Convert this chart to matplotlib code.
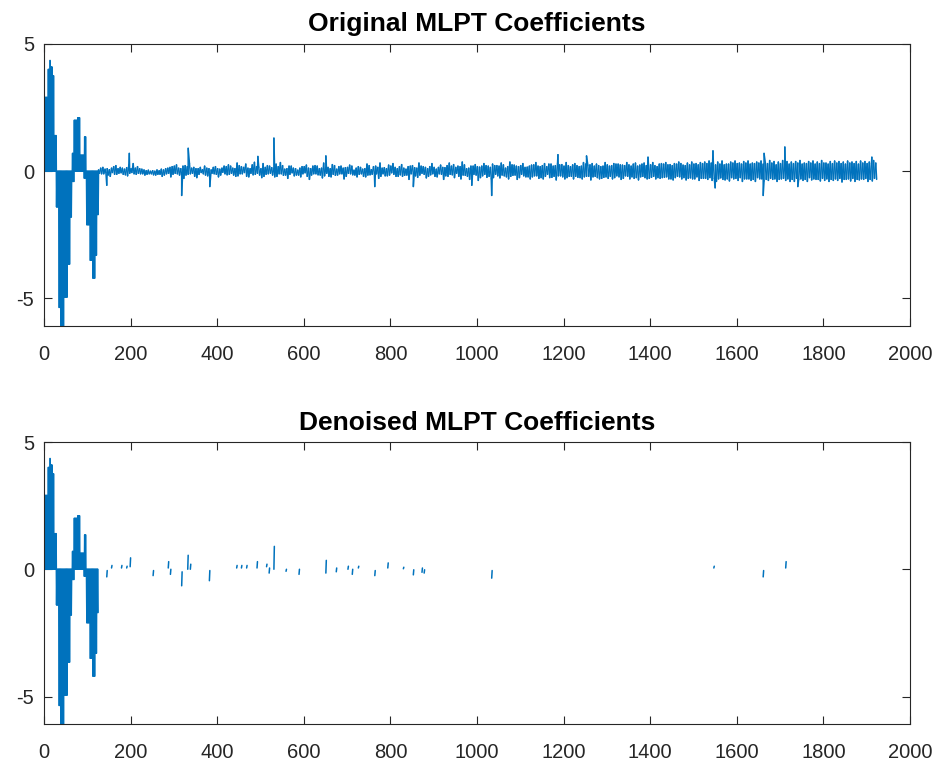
"""Original vs denoised MLPT coefficients (MATLAB-style stacked line plots)."""

import matplotlib

matplotlib.use("Agg")
import matplotlib.pyplot as plt
import numpy as np
from matplotlib.collections import LineCollection

# leading block of coarse coefficients: even indices (upper) and odd indices (lower)
UPPER_START = [0, 2, 10, 13, 16, 20, 24, 65, 70, 78, 83, 93]
UPPER_STOP = [2, 10, 13, 16, 20, 24, 29, 70, 78, 83, 93, 97]
UPPER_VALUE = [1.35, 2.9, 4.0, 4.35, 4.1, 3.75, 1.4, 0.7, 2.0, 2.1, 0.63, 1.35]

LOWER_START = [29, 35, 39, 47, 55, 60, 65, 93, 98, 106, 112, 118, 122]
LOWER_STOP = [35, 39, 47, 55, 60, 65, 70, 98, 106, 112, 118, 122, 126]
LOWER_VALUE = [-1.4, -5.35, -6.08, -4.95, -3.65, -1.8, -0.4, -0.27, -2.1, -3.5, -4.2, -3.3, -1.7]
BLOCK_LEN = 126

# fine-scale coefficients: upper excursions, read every 5 samples from index 126
NOISE_TOP = [
    0.05, 0.12, 0.15, 0.08, 0.1, 0.06, 0.12, 0.18, 0.22, 0.1, 0.15, 0.12, 0.08, 0.14, 0.25, 0.1, 0.3, 0.12, 0.18, 0.1,
    0.08, 0.05, 0.02, 0.04, 0.0, 0.02, 0.0, 0.05, 0.02, 0.08, 0.05, 0.1, 0.12, 0.15, 0.18, 0.2, 0.25, 0.12, 0.1, 0.2,
    0.22, 0.18, 0.3, 0.12, 0.15, 0.1, 0.1, 0.15, 0.06, 0.2, 0.12, 0.1, 0.05, 0.15, 0.18, 0.1, 0.08, 0.12, 0.2, 0.18,
    0.25, 0.2, 0.12, 0.1, 0.32, 0.22, 0.18, 0.15, 0.28, 0.12, 0.1, 0.25, 0.35, 0.18, 0.16, 0.1, 0.3, 0.15, 0.22, 0.2,
    0.14, 0.12, 0.28, 0.18, 0.34, 0.22, 0.08, 0.1, 0.2, 0.2, 0.12, 0.1, 0.04, 0.12, 0.18, 0.18, 0.24, 0.12, 0.1, 0.2,
    0.22, 0.2, 0.1, 0.12, 0.32, 0.15, 0.15, 0.1, 0.26, 0.22, 0.08, 0.18, 0.2, 0.12, 0.14, 0.15, 0.24, 0.2, 0.04, 0.12,
    0.18, 0.15, 0.08, 0.1, 0.28, 0.22, 0.06, 0.18, 0.2, 0.15, 0.32, 0.12, 0.14, 0.1, 0.24, 0.2, 0.3, 0.15, 0.1, 0.18,
    0.26, 0.12, 0.08, 0.18, 0.2, 0.22, 0.14, 0.12, 0.32, 0.2, 0.18, 0.15, 0.1, 0.18, 0.3, 0.15, 0.08, 0.15, 0.24, 0.15,
    0.14, 0.22, 0.32, 0.2, 0.26, 0.15, 0.2, 0.18, 0.36, 0.25, 0.1, 0.12, 0.2, 0.2, 0.26, 0.18, 0.16, 0.2, 0.3, 0.22,
    0.2, 0.15, 0.28, 0.22, 0.22, 0.2, 0.32, 0.25, 0.12, 0.18, 0.36, 0.25, 0.24, 0.2, 0.18, 0.22, 0.3, 0.15, 0.16, 0.2,
    0.24, 0.25, 0.34, 0.2, 0.18, 0.22, 0.3, 0.18, 0.28, 0.28, 0.2, 0.22, 0.3, 0.25, 0.26, 0.2, 0.34, 0.22, 0.18, 0.25,
    0.3, 0.22, 0.18, 0.2, 0.34, 0.28, 0.24, 0.25, 0.3, 0.2, 0.28, 0.22, 0.18, 0.2, 0.34, 0.25, 0.2, 0.22, 0.3, 0.28,
    0.28, 0.25, 0.24, 0.22, 0.34, 0.25, 0.2, 0.28, 0.32, 0.2, 0.24, 0.28, 0.32, 0.22, 0.28, 0.25, 0.34, 0.22, 0.18, 0.28,
    0.3, 0.28, 0.34, 0.25, 0.26, 0.22, 0.3, 0.28, 0.36, 0.3, 0.24, 0.22, 0.32, 0.25, 0.36, 0.28, 0.3, 0.25, 0.34, 0.3,
    0.36, 0.3, 0.4, 0.32, 0.3, 0.25, 0.36, 0.28, 0.4, 0.25, 0.28, 0.28, 0.36, 0.32, 0.4, 0.3, 0.32, 0.28, 0.38, 0.32,
    0.4, 0.28, 0.32, 0.3, 0.36, 0.32, 0.4, 0.28, 0.32, 0.3, 0.42, 0.32, 0.38, 0.25, 0.36, 0.3, 0.42, 0.32, 0.38, 0.28,
    0.36, 0.3, 0.38, 0.32, 0.42, 0.28, 0.32, 0.3, 0.38, 0.32, 0.4, 0.28, 0.36, 0.3, 0.42, 0.32, 0.32, 0.28, 0.38, 0.3,
    0.4, 0.32, 0.38, 0.3, 0.36, 0.28, 0.4, 0.32, 0.36, 0.3, 0.38, 0.28, 0.4, 0.32, 0.38, 0.3, 0.36, 0.3, 0.42, 0.32,
]
# lower excursions, read every 5 samples from index 128
NOISE_BOTTOM = [
    -0.08, -0.1, -0.1, -0.05, -0.15, -0.2, -0.05, -0.12, -0.12, -0.08, -0.06, -0.12, -0.14, -0.18, -0.08, -0.05, -0.1, -0.12, -0.08, -0.1,
    -0.1, -0.15, -0.12, -0.1, -0.1, -0.14, -0.15, -0.12, -0.12, -0.2, -0.15, -0.1, -0.08, -0.22, -0.12, -0.08, -0.1, -0.15, -0.2, -0.28,
    -0.15, -0.12, -0.1, -0.08, -0.2, -0.25, -0.12, -0.05, -0.1, -0.15, -0.18, -0.32, -0.08, -0.1, -0.12, -0.22, -0.15, -0.04, -0.1, -0.14,
    -0.12, -0.08, -0.15, -0.2, -0.18, -0.1, -0.1, -0.05, -0.2, -0.22, -0.08, -0.14, -0.12, -0.08, -0.15, -0.25, -0.2, -0.12, -0.1, -0.08,
    -0.15, -0.22, -0.2, -0.1, -0.1, -0.16, -0.15, -0.28, -0.12, -0.06, -0.18, -0.15, -0.15, -0.22, -0.1, -0.06, -0.2, -0.32, -0.15, -0.1,
    -0.1, -0.14, -0.15, -0.26, -0.18, -0.08, -0.2, -0.22, -0.12, -0.16, -0.15, -0.1, -0.1, -0.3, -0.2, -0.08, -0.1, -0.14, -0.15, -0.22,
    -0.12, -0.1, -0.2, -0.22, -0.15, -0.14, -0.12, -0.08, -0.1, -0.28, -0.2, -0.1, -0.18, -0.18, -0.15, -0.06, -0.12, -0.2, -0.2, -0.14,
    -0.2, -0.16, -0.15, -0.32, -0.1, -0.1, -0.18, -0.24, -0.15, -0.08, -0.12, -0.26, -0.2, -0.14, -0.1, -0.2, -0.22, -0.1, -0.12, -0.32,
    -0.18, -0.2, -0.12, -0.14, -0.25, -0.08, -0.2, -0.3, -0.15, -0.16, -0.2, -0.32, -0.22, -0.12, -0.15, -0.36, -0.25, -0.18, -0.12, -0.24,
    -0.2, -0.3, -0.25, -0.12, -0.18, -0.26, -0.15, -0.18, -0.22, -0.3, -0.2, -0.16, -0.15, -0.32, -0.25, -0.12, -0.18, -0.22, -0.22, -0.3,
    -0.22, -0.18, -0.18, -0.28, -0.25, -0.3, -0.2, -0.12, -0.25, -0.24, -0.2, -0.34, -0.18, -0.18, -0.22, -0.3, -0.25, -0.2, -0.2, -0.3,
    -0.2, -0.24, -0.25, -0.3, -0.22, -0.2, -0.2, -0.34, -0.22, -0.2, -0.25, -0.3, -0.28, -0.24, -0.22, -0.28, -0.2, -0.3, -0.25, -0.18,
    -0.22, -0.32, -0.28, -0.18, -0.2, -0.3, -0.22, -0.28, -0.25, -0.34, -0.22, -0.2, -0.25, -0.3, -0.28, -0.24, -0.2, -0.3, -0.25, -0.28,
    -0.25, -0.24, -0.22, -0.3, -0.3, -0.34, -0.25, -0.2, -0.22, -0.3, -0.25, -0.34, -0.28, -0.26, -0.3, -0.3, -0.22, -0.36, -0.28, -0.28,
    -0.28, -0.32, -0.25, -0.36, -0.28, -0.4, -0.3, -0.26, -0.32, -0.34, -0.3, -0.38, -0.25, -0.3, -0.28, -0.36, -0.25, -0.4, -0.3, -0.3,
    -0.3, -0.36, -0.32, -0.4, -0.25, -0.3, -0.3, -0.38, -0.32, -0.36, -0.28, -0.32, -0.3, -0.4, -0.32, -0.3, -0.28, -0.36, -0.3, -0.4,
    -0.32, -0.4, -0.28, -0.32, -0.3, -0.36, -0.32, -0.4, -0.25, -0.34, -0.3, -0.32, -0.32, -0.38, -0.28, -0.36, -0.3, -0.4, -0.32, -0.36,
    -0.3, -0.36, -0.28, -0.42, -0.32, -0.32, -0.3, -0.38, -0.28, -0.4, -0.32, -0.34, -0.3, -0.32, -0.28, -0.4, -0.32, -0.38, -0.28, -0.32,
]
NOISE_TOP_START = 126
NOISE_BOTTOM_START = 128
NOISE_STEP = 5

# isolated large fine-scale coefficients
SPIKE_X = [145, 197, 318, 333, 383, 494, 531, 651, 764, 853, 988, 1034,
           1187, 1253, 1395, 1545, 1550, 1661, 1663, 1711, 1741, 1912]
SPIKE_Y = [-0.55, 0.7, -0.95, 0.9, -0.6, 0.58, 1.3, 0.6, -0.6, -0.6, -0.55, -0.95,
           0.65, 0.6, 0.55, 0.8, -0.65, -0.95, 0.7, 0.95, -0.6, 0.55]

# coefficients kept after thresholding: pairs at (x, x + 1)
KEPT_X = [145, 156, 179, 191, 199, 252, 287, 292, 318, 332, 338, 382, 445, 456, 468,
          492, 514, 520, 531, 559, 589, 651, 675, 702, 712, 726, 764, 794, 830, 853,
          873, 878, 1034, 1547, 1661, 1713]
KEPT_A = [-0.3, 0.05, 0.05, 0.05, 0.1, -0.25, 0.05, -0.2, -0.65, 0.0, 0.0, -0.45, 0.05, 0.05, 0.05,
          0.05, 0.1, -0.15, 0.0, -0.08, -0.2, -0.15, -0.1, 0.0, -0.2, 0.05, -0.25, 0.05, 0.02, -0.22,
          -0.12, -0.15, -0.35, 0.05, -0.3, 0.05]
KEPT_B = [-0.05, 0.15, 0.15, 0.12, 0.45, -0.05, 0.3, 0.0, -0.1, 0.55, 0.2, -0.05, 0.15, 0.15, 0.15,
          0.3, 0.2, 0.05, 0.9, 0.0, 0.0, 0.35, 0.05, 0.12, 0.0, 0.12, -0.05, 0.25, 0.08, -0.02,
          0.05, -0.02, -0.05, 0.12, -0.05, 0.3]

LINE_COLOR = "#0072BD"
AXIS_COLOR = "#262626"


def _envelopes() -> tuple[np.ndarray, np.ndarray, np.ndarray]:
    idx = np.arange(BLOCK_LEN)
    upper = np.zeros(BLOCK_LEN)
    lower = np.zeros(BLOCK_LEN)
    for s, e, v in zip(UPPER_START, UPPER_STOP, UPPER_VALUE):
        upper[(idx >= s) & (idx < e)] = v
    for s, e, v in zip(LOWER_START, LOWER_STOP, LOWER_VALUE):
        lower[(idx >= s) & (idx < e)] = v
    return idx, upper, lower


def _block() -> tuple[np.ndarray, np.ndarray]:
    idx, upper, lower = _envelopes()
    return idx.astype(float), np.where(idx % 2 == 0, upper, lower)


def _original() -> tuple[np.ndarray, np.ndarray]:
    bx, by = _block()
    tx = NOISE_TOP_START + NOISE_STEP * np.arange(len(NOISE_TOP))
    lx = NOISE_BOTTOM_START + NOISE_STEP * np.arange(len(NOISE_BOTTOM))
    x = np.concatenate([bx, tx, lx, SPIKE_X]).astype(float)
    y = np.concatenate([by, NOISE_TOP, NOISE_BOTTOM, SPIKE_Y])
    order = np.argsort(x, kind="stable")
    return x[order], y[order]


def _denoised() -> tuple[np.ndarray, np.ndarray]:
    bx, by = _block()
    xs = [bx]
    ys = [by]
    for x, a, b in zip(KEPT_X, KEPT_A, KEPT_B):
        xs.append(np.array([np.nan, x, x + 1.0]))
        ys.append(np.array([np.nan, a, b]))
    return np.concatenate(xs), np.concatenate(ys)


def _segments(x: np.ndarray, y: np.ndarray) -> np.ndarray:
    # one segment per pair of neighbours, so the dense zigzag strokes cleanly
    pts = np.column_stack([x, y])
    segs = np.stack([pts[:-1], pts[1:]], axis=1)
    ok = np.isfinite(segs).all(axis=(1, 2))
    return segs[ok]


def _style(ax, title: str, ymin: float) -> None:
    ax.set_xlim(0, 2000)
    ax.set_ylim(ymin, 5)
    ax.set_xticks(np.arange(0, 2001, 200))
    ax.set_yticks([-5, 0, 5])
    ax.set_yticklabels(["-5", "0", "5"])
    ax.tick_params(direction="in", top=True, right=True, length=6, width=0.8,
                   color=AXIS_COLOR, labelcolor=AXIS_COLOR, labelsize=14.5)
    ax.tick_params(axis="x", pad=14)
    ax.tick_params(axis="y", pad=7)
    for sp in ax.spines.values():
        sp.set_color(AXIS_COLOR)
        sp.set_linewidth(0.8)
    ax.set_title(title, fontsize=19, fontweight="bold", color="black", pad=9)


def main() -> int:
    plt.rcParams["font.family"] = ["Liberation Sans", "DejaVu Sans"]
    fig = plt.figure(figsize=(9.42, 7.65), dpi=100)
    ax1 = fig.add_axes([0.0467, 0.5739, 0.9193, 0.3686])
    ax2 = fig.add_axes([0.0467, 0.0536, 0.9193, 0.3686])

    idx, upper, lower = _envelopes()
    ex = np.append(idx, BLOCK_LEN - 1).astype(float)
    eu = np.append(upper, upper[-1])
    el = np.append(lower, lower[-1])
    ymin = min(LOWER_VALUE)

    for ax, (x, y) in ((ax1, _original()), (ax2, _denoised())):
        # the coarse block zigzags so densely that it reads as a filled area
        ax.fill_between(ex, el, eu, step="post", color=LINE_COLOR, linewidth=0)
        lc = LineCollection(_segments(x, y), colors=LINE_COLOR, linewidths=1.1,
                            capstyle="round", snap=False)
        ax.add_collection(lc)

    _style(ax1, "Original MLPT Coefficients", ymin)
    _style(ax2, "Denoised MLPT Coefficients", ymin)

    fig.savefig("out.png", dpi=100)
    plt.close(fig)
    return 0


if __name__ == "__main__":
    raise SystemExit(main())
